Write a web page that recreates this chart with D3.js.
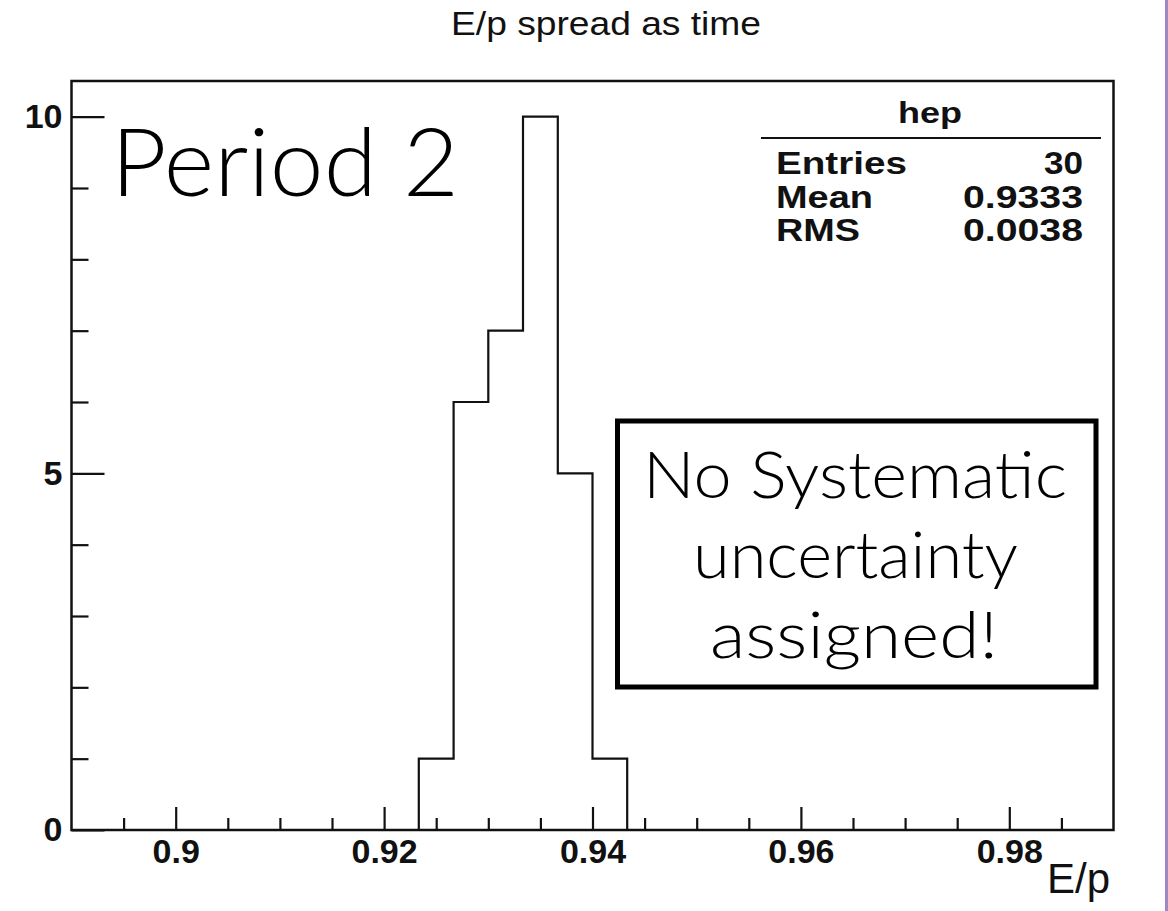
<!DOCTYPE html>
<html>
<head>
<meta charset="utf-8">
<script src="https://cdn.jsdelivr.net/npm/d3@7"></script>
<style>
  html, body { margin: 0; padding: 0; background: #fff; }
  svg { display: block; }
</style>
</head>
<body>
<svg id="chart" width="1168" height="911"></svg>
<script>
// ---- data ----
const binEdges = [0.92333, 0.92667, 0.93, 0.93333, 0.93667, 0.94, 0.94333];
const binCounts = [1, 6, 7, 10, 5, 1];
const xMajorTicks = [0.90, 0.92, 0.94, 0.96, 0.98];
const xMajorLabels = ["0.9", "0.92", "0.94", "0.96", "0.98"];
const xMinorTicks = [0.895, 0.905, 0.91, 0.915, 0.925, 0.93, 0.935, 0.945, 0.95, 0.955, 0.965, 0.97, 0.975, 0.985];
const yMajorTicks = [0, 5, 10];
const yMajorLabels = ["0", "5", "10"];
const yMinorTicks = [1, 2, 3, 4, 6, 7, 8, 9];
const statLabels = ["Entries", "Mean", "RMS"];
const statValues = ["30", "0.9333", "0.0038"];
const xDomain = [0.89, 0.99];
const yDomain = [0, 10.5];

const svg = d3.select("#chart");
const W = 1168, H = 911;
svg.append("rect").attr("width", W).attr("height", H).attr("fill", "#fff");

const frame = { left: 71.5, right: 1113.5, top: 81, bottom: 830 };
const x = d3.scaleLinear().domain(xDomain).range([frame.left, frame.right]);
const y = d3.scaleLinear().domain(yDomain).range([frame.bottom, frame.top]);

const sans = "'Liberation Sans', Arial, Helvetica, sans-serif";
const light = "Lato, 'Helvetica Neue', 'Liberation Sans', sans-serif";

// title
svg.append("text")
  .attr("x", 451).attr("y", 35)
  .attr("font-family", sans).attr("font-size", 33)
  .attr("textLength", 310).attr("lengthAdjust", "spacingAndGlyphs")
  .attr("fill", "#111")
  .text("E/p spread as time");

// histogram outline
const pts = [[binEdges[0], 0]];
binCounts.forEach((c, i) => pts.push([binEdges[i], c]));
pts.push([binEdges[binEdges.length - 1], binCounts[binCounts.length - 1]]);
pts.push([binEdges[binEdges.length - 1], 0]);
const line = d3.line().x(d => x(d[0])).y(d => y(d[1])).curve(d3.curveStepAfter);
svg.append("path")
  .attr("d", line(pts))
  .attr("fill", "none").attr("stroke", "#111").attr("stroke-width", 2.2);

// frame
svg.append("rect")
  .attr("x", frame.left).attr("y", frame.top)
  .attr("width", frame.right - frame.left).attr("height", frame.bottom - frame.top)
  .attr("fill", "none").attr("stroke", "#111").attr("stroke-width", 2.5);

// x axis
const gxMinor = svg.append("g").attr("transform", `translate(0,${frame.bottom})`)
  .call(d3.axisBottom(x).tickValues(xMinorTicks).tickSize(-12).tickFormat(""));
const gx = svg.append("g").attr("transform", `translate(0,${frame.bottom})`)
  .call(d3.axisBottom(x).tickValues(xMajorTicks).tickSize(-23).tickPadding(9)
    .tickFormat((d, i) => xMajorLabels[i]));
[gxMinor, gx].forEach(g => {
  g.select(".domain").remove();
  g.selectAll("line").attr("stroke", "#111").attr("stroke-width", 2.2);
});
gx.selectAll("text").attr("font-family", sans).attr("font-weight", "bold")
  .attr("font-size", 34).attr("fill", "#111");

// y axis
const gyMinor = svg.append("g").attr("transform", `translate(${frame.left},0)`)
  .call(d3.axisLeft(y).tickValues(yMinorTicks).tickSize(-17).tickFormat(""));
const gy = svg.append("g").attr("transform", `translate(${frame.left},0)`)
  .call(d3.axisLeft(y).tickValues(yMajorTicks).tickSize(-33).tickPadding(9)
    .tickFormat((d, i) => yMajorLabels[i]));
[gyMinor, gy].forEach(g => {
  g.select(".domain").remove();
  g.selectAll("line").attr("stroke", "#111").attr("stroke-width", 2.2);
});
gy.selectAll("text").attr("font-family", sans).attr("font-weight", "bold")
  .attr("font-size", 34).attr("fill", "#111");

// x axis title
svg.append("text")
  .attr("x", 1110).attr("y", 893).attr("text-anchor", "end")
  .attr("font-family", sans).attr("font-size", 42).attr("fill", "#111")
  .text("E/p");

// stats box
svg.append("text")
  .attr("x", 898).attr("y", 123)
  .attr("font-family", sans).attr("font-weight", "bold").attr("font-size", 30)
  .attr("textLength", 64).attr("lengthAdjust", "spacingAndGlyphs")
  .attr("fill", "#111").text("hep");
svg.append("line")
  .attr("x1", 761).attr("x2", 1101).attr("y1", 138).attr("y2", 138)
  .attr("stroke", "#111").attr("stroke-width", 2);
const statBase = [174, 208, 241];
const statLabelW = [131, 97, 84];
statLabels.forEach((s, i) => {
  svg.append("text")
    .attr("x", 776).attr("y", statBase[i])
    .attr("font-family", sans).attr("font-weight", "bold").attr("font-size", 31)
    .attr("textLength", statLabelW[i]).attr("lengthAdjust", "spacingAndGlyphs")
    .attr("fill", "#111").text(s);
});
const statValW = [39, 120, 120];
statValues.forEach((s, i) => {
  svg.append("text")
    .attr("x", 1083 - statValW[i]).attr("y", statBase[i])
    .attr("font-family", sans).attr("font-weight", "bold").attr("font-size", 31)
    .attr("textLength", statValW[i]).attr("lengthAdjust", "spacingAndGlyphs")
    .attr("fill", "#111").text(s);
});

// Period 2 annotation
svg.append("text")
  .attr("x", 111).attr("y", 196)
  .attr("font-family", light).attr("font-weight", 300).attr("font-size", 95)
  .attr("textLength", 348).attr("lengthAdjust", "spacingAndGlyphs")
  .attr("fill", "#000").text("Period 2");

// note box
svg.append("rect")
  .attr("x", 617.5).attr("y", 421).attr("width", 478.5).attr("height", 266)
  .attr("fill", "#fff").attr("stroke", "#000").attr("stroke-width", 5);
const noteLines = ["No Systematic", "uncertainty", "assigned!"];
const noteBase = [498, 578, 658];
const noteX = [643, 693, 710];
const noteW = [424, 325, 288];
noteLines.forEach((s, i) => {
  svg.append("text")
    .attr("x", noteX[i]).attr("y", noteBase[i])
    .attr("font-family", light).attr("font-weight", 300).attr("font-size", 65)
    .attr("textLength", noteW[i]).attr("lengthAdjust", "spacingAndGlyphs")
    .attr("fill", "#000").text(s);
});

// purple slide edge on right
svg.append("rect")
  .attr("x", 1165).attr("y", 0).attr("width", 3).attr("height", H)
  .attr("fill", "#9f86c4");
</script>
</body>
</html>
